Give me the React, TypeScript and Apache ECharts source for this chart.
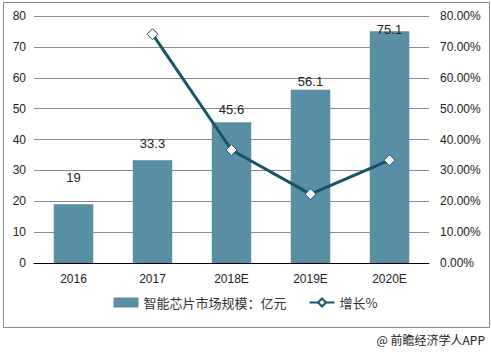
import React, { useEffect, useRef } from "react";
import * as echarts from "echarts";

const categories = ["2016", "2017", "2018E", "2019E", "2020E"];
const marketSize = [19, 33.3, 45.6, 56.1, 75.1];
const growth: (number | null)[] = [null, 74.1, 36.6, 22.3, 33.3];
const leftTicks = [0, 80, 10];
const rightTicks = [0, 80, 10];
const barLabelDistances = [20, 10, 6, 2, -5];

const BAR = "#5a8ea5";
const LINE = "#175468";
const FONT = "'Liberation Sans', Arial, 'Noto Sans CJK SC', sans-serif";

export default function App() {
  const ref = useRef<HTMLDivElement>(null);
  useEffect(() => {
    if (!ref.current) return;
    const chart = echarts.init(ref.current, undefined, { renderer: "svg" });
    chart.setOption({
      animation: false,
      textStyle: { fontFamily: FONT },
      grid: { left: 34, right: 62, top: 16, bottom: 89, containLabel: false },
      graphic: [
        {
          type: "rect",
          shape: { x: 3.5, y: 2.5, width: 486, height: 325 },
          style: { fill: "none", stroke: "#8a8a8a", lineWidth: 1 },
          silent: true,
        },
        {
          type: "text",
          right: 6,
          top: 333,
          style: {
            text: "@ 前瞻经济学人APP",
            fill: "#222",
            font: "12px 'Noto Sans CJK SC', sans-serif",
          },
        },
      ],
      legend: {
        bottom: 38,
        left: "center",
        itemWidth: 25,
        itemHeight: 10,
        itemGap: 22,
        textStyle: { color: "#333", fontSize: 13, fontFamily: "'Noto Sans CJK SC', sans-serif" },
        data: [
          { name: "智能芯片市场规模：亿元", icon: "rect" },
          { name: "增长%" },
        ],
      },
      xAxis: {
        type: "category",
        data: categories,
        axisLine: { lineStyle: { color: "#000", width: 1 } },
        axisTick: { show: false },
        axisLabel: { color: "#222", fontSize: 12, margin: 10 },
      },
      yAxis: [
        {
          type: "value",
          min: leftTicks[0],
          max: leftTicks[1],
          interval: leftTicks[2],
          axisLine: { show: false },
          axisTick: { show: false },
          axisLabel: { color: "#222", fontSize: 12, margin: 8 },
          splitLine: { lineStyle: { color: "#8c8c8c", width: 1 } },
        },
        {
          type: "value",
          min: rightTicks[0],
          max: rightTicks[1],
          interval: rightTicks[2],
          axisLine: { show: false },
          axisTick: { show: false },
          splitLine: { show: false },
          axisLabel: {
            color: "#222",
            fontSize: 12,
            margin: 11,
            formatter: (v: number) => v.toFixed(2) + "%",
          },
        },
      ],
      series: [
        {
          name: "智能芯片市场规模：亿元",
          type: "bar",
          barWidth: "50%",
          itemStyle: { color: BAR },
          data: marketSize.map((v, i) => ({
            value: v,
            label: { distance: barLabelDistances[i] },
          })),
          label: {
            show: true,
            position: "top",
            color: "#222",
            fontSize: 13,
          },
          z: 2,
        },
        {
          name: "增长%",
          type: "line",
          yAxisIndex: 1,
          data: growth,
          symbol: "diamond",
          symbolSize: 11,
          showSymbol: true,
          lineStyle: { color: LINE, width: 3 },
          itemStyle: { color: "#fff", borderColor: LINE, borderWidth: 1 },
          z: 3,
        },
      ],
    });
    return () => chart.dispose();
  }, []);
  return <div ref={ref} style={{ width: 491, height: 352, position: "absolute", left: 0, top: 0 }} />;
}
